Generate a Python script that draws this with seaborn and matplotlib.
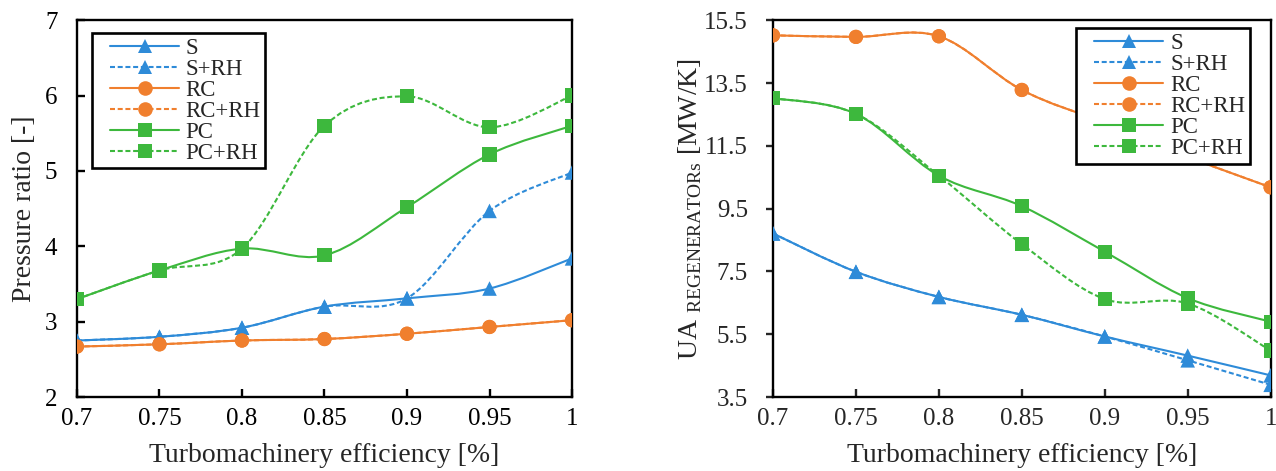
import numpy as np
import matplotlib
matplotlib.use("Agg")
import matplotlib.pyplot as plt
from matplotlib.path import Path
from matplotlib.patches import PathPatch
from matplotlib.lines import Line2D
from matplotlib.legend_handler import HandlerLine2D
import seaborn as sns

# Turbomachinery efficiency (x axis)
efficiency = [0.70, 0.75, 0.80, 0.85, 0.90, 0.95, 1.00]
series_names = ["S", "S+RH", "RC", "RC+RH", "PC", "PC+RH"]

# Pressure ratio [-]
pr_s = [2.75, 2.80, 2.92, 3.20, 3.31, 3.44, 3.84]
pr_s_rh = [2.75, 2.80, 2.92, 3.20, 3.31, 4.47, 4.98]
pr_rc = [2.67, 2.70, 2.75, 2.77, 2.84, 2.93, 3.02]
pr_rc_rh = [2.67, 2.70, 2.75, 2.77, 2.84, 2.93, 3.02]
pr_pc = [3.30, 3.68, 3.97, 3.88, 4.52, 5.22, 5.60]
pr_pc_rh = [3.30, 3.68, 3.97, 5.60, 5.99, 5.58, 6.00]

# UA of regenerators [MW/K]
ua_s = [8.71, 7.49, 6.69, 6.12, 5.43, 4.82, 4.19]
ua_s_rh = [8.71, 7.49, 6.69, 6.12, 5.43, 4.67, 3.89]
ua_rc = [15.02, 14.97, 14.99, 13.28, 12.23, 11.15, 10.18]
ua_rc_rh = [15.02, 14.97, 14.99, 13.28, 12.23, 11.15, 10.18]
ua_pc = [13.02, 12.52, 10.55, 9.58, 8.13, 6.65, 5.90]
ua_pc_rh = [13.02, 12.52, 10.55, 8.37, 6.62, 6.48, 4.98]

pr_yticks = [2, 3, 4, 5, 6, 7]
ua_yticks = [3.5, 5.5, 7.5, 9.5, 11.5, 13.5, 15.5]
xtick_labels = ["0.7", "0.75", "0.8", "0.85", "0.9", "0.95", "1"]

BLUE = "#2E8BD8"
ORANGE = "#F07F2E"
GREEN = "#3DB83D"
colors = [BLUE, BLUE, ORANGE, ORANGE, GREEN, GREEN]
markers = ["^", "^", "o", "o", "s", "s"]
dashed = [False, True, False, True, False, True]
DASH = (0, (2.4, 1.3))
LW = 1.5
TICK_FS = 18
LABEL_FS = 20
LEGEND_FS = 16.5

sns.set_theme(style="white")
plt.rcParams["font.family"] = ["Liberation Serif", "DejaVu Serif"]
plt.rcParams["mathtext.fontset"] = "custom"
plt.rcParams["mathtext.rm"] = "Liberation Serif"


class IndentedLineHandler(HandlerLine2D):
    """Legend handle whose line starts a little to the right of the box edge."""

    def __init__(self, indent, **kw):
        super().__init__(**kw)
        self.indent = indent

    def create_artists(self, legend, orig_handle, xdescent, ydescent, width, height,
                       fontsize, trans):
        s = self.indent * fontsize
        return super().create_artists(legend, orig_handle, xdescent - s, ydescent,
                                      width - s, height, fontsize, trans)


def smooth_path(xs, ys):
    """Catmull-Rom style cubic Bezier through the points (spreadsheet smoothing)."""
    p = np.column_stack([xs, ys]).astype(float)
    n = len(p)
    verts = [p[0]]
    codes = [Path.MOVETO]
    for i in range(n - 1):
        p_prev = p[i - 1] if i > 0 else p[i]
        p_next2 = p[i + 2] if i + 2 < n else p[i + 1]
        c1 = p[i] + (p[i + 1] - p_prev) / 6.0
        c2 = p[i + 1] - (p_next2 - p[i]) / 6.0
        verts += [c1, c2, p[i + 1]]
        codes += [Path.CURVE4] * 3
    return Path(verts, codes)


def draw_panel(ax, data, yticks, ylim):
    for name, ys, col, mk, ds in zip(series_names, data, colors, markers, dashed):
        patch = PathPatch(smooth_path(efficiency, ys), facecolor="none", edgecolor=col,
                          lw=LW, linestyle=DASH if ds else "-", zorder=2,
                          capstyle="butt")
        ax.add_patch(patch)
        sns.scatterplot(x=efficiency, y=ys, marker=mk, color=col, s=110 if mk == "^" else 105,
                        edgecolor="none", ax=ax, zorder=3, legend=False)
    ax.set_xlim(0.7, 1.0)
    ax.set_ylim(*ylim)
    ax.set_xticks(efficiency)
    ax.set_xticklabels(xtick_labels)
    ax.set_yticks(yticks)
    ax.set_yticklabels([f"{t:g}" for t in yticks])
    for sp in ax.spines.values():
        sp.set_visible(True)
        sp.set_color("black")
        sp.set_linewidth(1.7)
    ax.set_xlabel("Turbomachinery efficiency [%]", fontsize=LABEL_FS, labelpad=9)
    handles = [Line2D([0], [0], color=c, marker=m, markersize=10.5,
                      lw=LW, linestyle=DASH if d else "-", markeredgewidth=0)
               for c, m, d in zip(colors, markers, dashed)]
    return handles


fig = plt.figure(figsize=(12.76, 4.71), dpi=100)
ax1 = fig.add_axes([0.0603, 0.157, 0.388, 0.800])
ax2 = fig.add_axes([0.6058, 0.157, 0.390, 0.800])

h1 = draw_panel(ax1, [pr_s, pr_s_rh, pr_rc, pr_rc_rh, pr_pc, pr_pc_rh], pr_yticks, (2, 7))
h2 = draw_panel(ax2, [ua_s, ua_s_rh, ua_rc, ua_rc_rh, ua_pc, ua_pc_rh], ua_yticks, (3.5, 15.5))

ax1.tick_params(axis="both", which="major", direction="in", length=6, width=1.7,
                labelsize=TICK_FS, colors="black", bottom=True, left=True)
ax1.tick_params(axis="y", pad=14)
ax1.tick_params(axis="x", pad=8)
ax2.tick_params(axis="x", direction="in", length=6, width=1.7, labelsize=TICK_FS,
                bottom=True, pad=8)
ax2.tick_params(axis="y", direction="out", length=5, width=1.7, labelsize=TICK_FS,
                left=True, pad=13)

ax1.set_ylabel("Pressure ratio [-]", fontsize=LABEL_FS, labelpad=6)
ax2.set_ylabel(r"UA $_{\mathrm{REGENERATORs}}$ [MW/K]", fontsize=LABEL_FS, labelpad=0)

leg_kw = dict(frameon=True, fancybox=False, framealpha=1, edgecolor="black",
              fontsize=LEGEND_FS, handlelength=3.6, labelspacing=0.0, borderpad=0.2,
              handletextpad=0.3, borderaxespad=0,
              handler_map={Line2D: IndentedLineHandler(0.6)})
l1 = ax1.legend(h1, series_names, loc="upper left", bbox_to_anchor=(0.030, 0.966), **leg_kw)
l2 = ax2.legend(h2, series_names, loc="upper right", bbox_to_anchor=(0.958, 0.979), **leg_kw)
for lg in (l1, l2):
    lg.get_frame().set_linewidth(1.9)
    lg.set_zorder(5)

fig.savefig("out.png", dpi=100)
